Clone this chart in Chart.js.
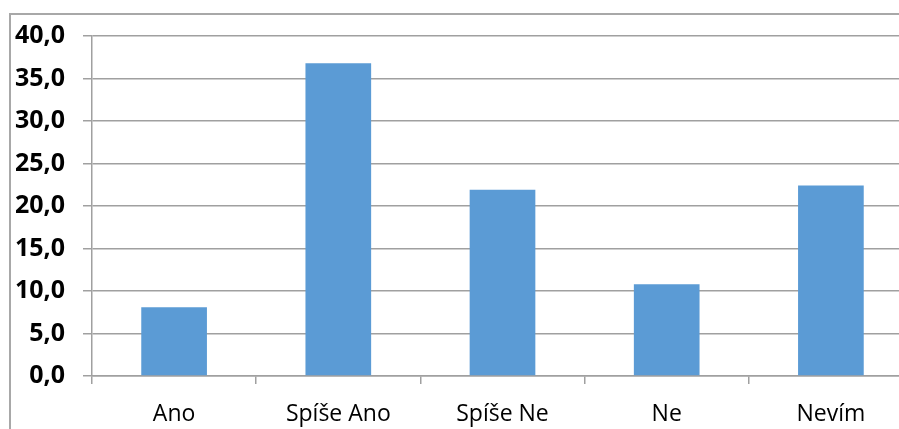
<!DOCTYPE html>
<html lang="cs">

<head>
  <meta charset="UTF-8">
  <script src="https://cdn.jsdelivr.net/npm/chart.js"></script>
  <title>Odpovědi</title>
  <style>
    html, body {
      margin: 0;
      padding: 0;
      width: 899px;
      height: 429px;
      overflow: hidden;
      background: #fff;
    }

    #frame {
      position: absolute;
      left: 9px;
      top: 13px;
      width: 1000px;
      height: 1000px;
      border-left: 2px solid #a8a8a8;
      border-top: 2px solid #a8a8a8;
    }

    #wrap {
      position: absolute;
      left: 0;
      top: 0;
    }
  </style>
</head>

<body>
  <div id="frame"></div>
  <div id="wrap">
    <canvas id="myChart" width="913" height="429"></canvas>
  </div>
  <script>
    // odpovědi a jejich podíl v %
    const labels = ['Ano', 'Spíše Ano', 'Spíše Ne', 'Ne', 'Nevím'];
    const values = [8.1, 36.8, 21.9, 10.8, 22.4];
    const yTicks = [0, 5, 10, 15, 20, 25, 30, 35, 40];

    const gridColor = '#a0a0a0';

    new Chart(document.getElementById('myChart'), {
      type: 'bar',
      data: {
        labels: labels,
        datasets: [{
          data: values,
          backgroundColor: '#5b9bd5',
          borderWidth: 0,
          categoryPercentage: 1,
          barPercentage: 0.4
        }]
      },
      options: {
        responsive: false,
        animation: false,
        layout: { padding: { top: 36, left: 0, right: 0, bottom: 0 } },
        plugins: {
          legend: { display: false },
          tooltip: { enabled: false }
        },
        scales: {
          x: {
            offset: true,
            grid: {
              offset: true,
              drawOnChartArea: false,
              color: gridColor,
              lineWidth: 1.5,
              tickLength: 8
            },
            border: { color: gridColor, width: 1.5 },
            ticks: {
              color: '#000',
              padding: 17,
              maxRotation: 0,
              font: { family: 'Open Sans', size: 23 }
            },
            afterFit: function (axis) { axis.height = 53; }
          },
          y: {
            min: 0,
            max: 40,
            afterBuildTicks: function (axis) {
              axis.ticks = yTicks.map(function (v) { return { value: v }; });
            },
            grid: {
              color: gridColor,
              lineWidth: 1.5,
              tickLength: 9
            },
            border: { color: gridColor, width: 1.5 },
            ticks: {
              color: '#000',
              padding: 18,
              font: { family: 'Open Sans', size: 25, weight: 'bold' },
              callback: function (v) { return v.toFixed(1).replace('.', ','); }
            },
            afterFit: function (axis) { axis.width = 92; }
          }
        }
      }
    });
  </script>
</body>

</html>
